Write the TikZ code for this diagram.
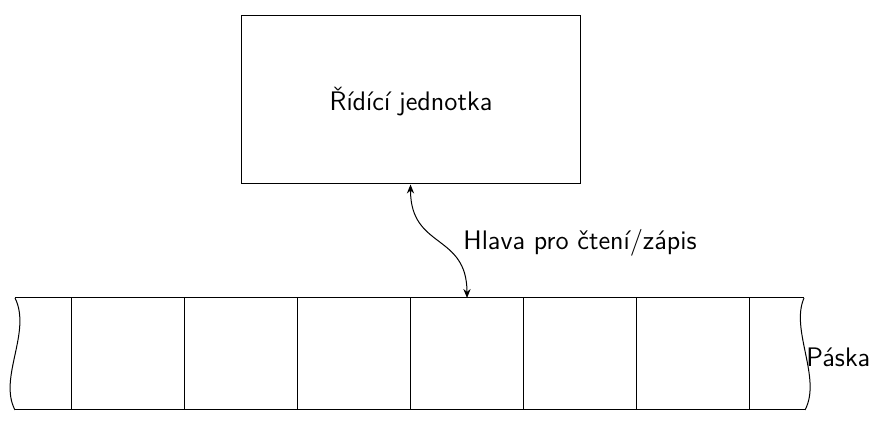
\documentclass[tikz,border=0pt]{standalone}
\usetikzlibrary{arrows.meta}
\begin{document}
\begin{tikzpicture}[x=0.5pt,y=-0.5pt,
  lbl/.style={font=\sffamily\fontsize{13.4}{16}\selectfont, inner sep=0pt},
  line/.style={line width=0.5pt}]
\useasboundingbox (0,0) rectangle (881,431);
\node[draw, line, minimum width=169.5pt, minimum height=84pt, inner sep=0pt] (ctrl) at (410.5,100) {};
\node[lbl] (ctrltext) at (411,102) {Řídící jednotka};
\coordinate (head) at (467,298);
\draw[line, {Stealth[length=4.5pt,width=3.6pt]}-{Stealth[length=4.5pt,width=3.6pt]}] (ctrl.south) .. controls +(0,65) and +(0,-65) .. (head);
\node[lbl] (headlbl) at (580,243) {Hlava pro čtení/zápis};
% tape
\draw[line] (15,298) -- (804,298);
\draw[line] (15,410) -- (805,410);
\foreach \x in {71,184,297,410,523,636,749} \draw[line] (\x,298) -- (\x,410);
\draw[line] (15,298) .. controls (32,332) and (-2,378) .. (15,410);
\draw[line] (804,298) .. controls (790,330) and (822,378) .. (805,410);
\node[lbl, anchor=west] (paska) at (806,357) {Páska};
\end{tikzpicture}
\end{document}
